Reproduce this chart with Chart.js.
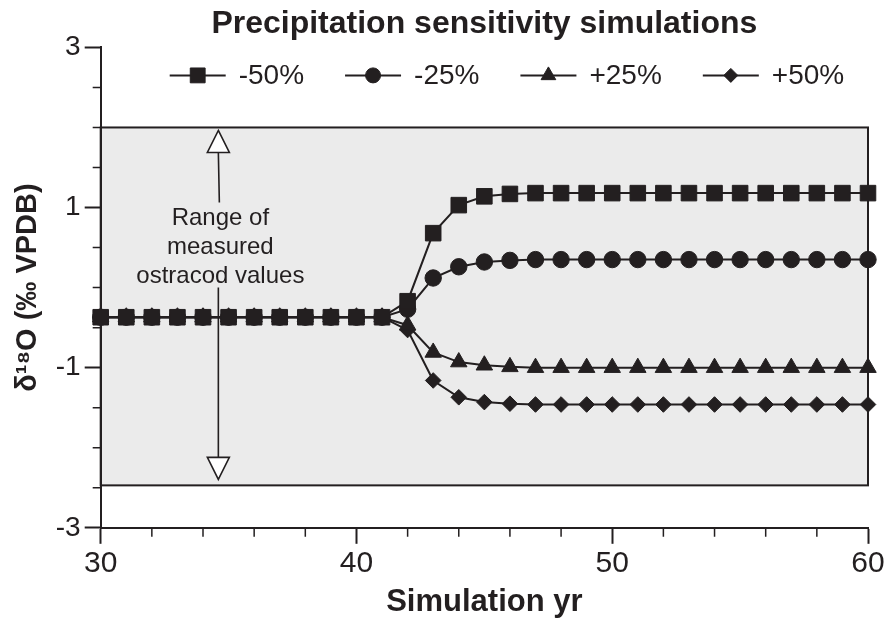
<!DOCTYPE html>
<html>
<head>
<meta charset="utf-8">
<script src="https://cdn.jsdelivr.net/npm/chart.js@4.4.1/dist/chart.umd.min.js"></script>
<style>
  body { margin: 0; background: #fff; }
</style>
</head>
<body>
<canvas id="chart" width="892" height="621"></canvas>
<script>
// simulation years on the x axis
const years = [30, 31, 32, 33, 34, 35, 36, 37, 38, 39, 40, 41, 42, 43, 44, 45,
  46, 47, 48, 49, 50, 51, 52, 53, 54, 55, 56, 57, 58, 59, 60];

// d18O values, one per year
const minus50 = [-0.37, -0.37, -0.37, -0.37, -0.37, -0.37, -0.37, -0.37, -0.37, -0.37, -0.37, -0.37,
  -0.17, 0.68, 1.03, 1.14, 1.17,
  1.18, 1.18, 1.18, 1.18, 1.18, 1.18, 1.18, 1.18, 1.18, 1.18, 1.18, 1.18, 1.18, 1.18];
const minus25 = [-0.37, -0.37, -0.37, -0.37, -0.37, -0.37, -0.37, -0.37, -0.37, -0.37, -0.37, -0.37,
  -0.27, 0.12, 0.26, 0.32, 0.34,
  0.35, 0.35, 0.35, 0.35, 0.35, 0.35, 0.35, 0.35, 0.35, 0.35, 0.35, 0.35, 0.35, 0.35];
const plus25 = [-0.37, -0.37, -0.37, -0.37, -0.37, -0.37, -0.37, -0.37, -0.37, -0.37, -0.37, -0.37,
  -0.47, -0.81, -0.93, -0.97, -0.99,
  -1.0, -1.0, -1.0, -1.0, -1.0, -1.0, -1.0, -1.0, -1.0, -1.0, -1.0, -1.0, -1.0, -1.0];
const plus50 = [-0.37, -0.37, -0.37, -0.37, -0.37, -0.37, -0.37, -0.37, -0.37, -0.37, -0.37, -0.37,
  -0.53, -1.16, -1.37, -1.43, -1.45,
  -1.46, -1.46, -1.46, -1.46, -1.46, -1.46, -1.46, -1.46, -1.46, -1.46, -1.46, -1.46, -1.46, -1.46];

const seriesLabels = ['-50%', '-25%', '+25%', '+50%'];
const seriesStyles = ['rect', 'circle', 'triangle', 'rectRot'];

// shaded band = range of measured ostracod values (d18O)
const measuredRange = [-2.47, 2.0];
const noteLines = ['Range of', 'measured', 'ostracod values'];
const noteYear = 34.6;
const noteValue = 0.5;

const ink = '#231f20';
const sans = "'Liberation Sans', Arial, Helvetica, sans-serif";

const pointSizes = { rect: 11, circle: 8.2, triangle: 9.5, rectRot: 7.8 };
const legendSizes = { rect: 10.5, circle: 7.5, triangle: 8.5, rectRot: 7 };

function drawMarker(ctx, style, x, y, r) {
  ctx.beginPath();
  if (style === 'rect') {
    const s = r * Math.SQRT1_2;
    ctx.rect(x - s, y - s, 2 * s, 2 * s);
  } else if (style === 'circle') {
    ctx.arc(x, y, r, 0, Math.PI * 2);
  } else if (style === 'triangle') {
    let a = 0;
    ctx.moveTo(x + Math.sin(a) * r, y - Math.cos(a) * r);
    a += Math.PI * 2 / 3;
    ctx.lineTo(x + Math.sin(a) * r, y - Math.cos(a) * r);
    a += Math.PI * 2 / 3;
    ctx.lineTo(x + Math.sin(a) * r, y - Math.cos(a) * r);
    ctx.closePath();
  } else {
    ctx.moveTo(x - r, y);
    ctx.lineTo(x, y - r);
    ctx.lineTo(x + r, y);
    ctx.lineTo(x, y + r);
    ctx.closePath();
  }
  ctx.fill();
  ctx.stroke();
}

// gray band, arrows and the note, drawn behind axes and data
const rangeBand = {
  id: 'rangeBand',
  beforeDraw(chart) {
    const { ctx, scales: { x, y } } = chart;
    const left = x.getPixelForValue(years[0]);
    const right = x.getPixelForValue(years[years.length - 1]);
    const top = y.getPixelForValue(measuredRange[1]);
    const bottom = y.getPixelForValue(measuredRange[0]);
    ctx.save();
    ctx.fillStyle = '#ebebeb';
    ctx.fillRect(left, top, right - left, bottom - top);
    ctx.strokeStyle = ink;
    ctx.lineWidth = 2;
    ctx.strokeRect(left, top, right - left, bottom - top);

    // note text
    const ax = x.getPixelForValue(noteYear);
    const cy = y.getPixelForValue(noteValue);
    ctx.fillStyle = ink;
    ctx.font = '24px ' + sans;
    ctx.textAlign = 'center';
    ctx.textBaseline = 'middle';
    noteLines.forEach((t, i) => ctx.fillText(t, ax + 2, cy + (i - 1) * 29));

    // arrow shafts
    const headH = 22, headW = 11;
    const tipTop = top + 3, tipBottom = bottom - 6;
    ctx.lineWidth = 1.6;
    ctx.beginPath();
    ctx.moveTo(ax, tipTop + headH);
    ctx.lineTo(ax + 1, cy - 29 - 16);
    ctx.moveTo(ax, cy + 29 + 11);
    ctx.lineTo(ax, tipBottom - headH);
    ctx.stroke();

    // open arrow heads
    ctx.fillStyle = '#fff';
    ctx.beginPath();
    ctx.moveTo(ax, tipTop);
    ctx.lineTo(ax + headW, tipTop + headH);
    ctx.lineTo(ax - headW, tipTop + headH);
    ctx.closePath();
    ctx.fill();
    ctx.stroke();
    ctx.beginPath();
    ctx.moveTo(ax, tipBottom);
    ctx.lineTo(ax + headW, tipBottom - headH);
    ctx.lineTo(ax - headW, tipBottom - headH);
    ctx.closePath();
    ctx.fill();
    ctx.stroke();
    ctx.restore();
  }
};

// small unlabelled ticks between the labelled ones
const minorTicks = {
  id: 'minorTicks',
  afterDraw(chart) {
    const { ctx, scales: { x, y } } = chart;
    ctx.save();
    ctx.strokeStyle = ink;
    ctx.lineWidth = 1.5;
    ctx.beginPath();
    for (let v = 32; v < 60; v += 2) {
      if (v % 10 === 0) continue;
      const px = x.getPixelForValue(v);
      ctx.moveTo(px, x.top);
      ctx.lineTo(px, x.top + 9);
    }
    for (let v = -2.5; v < 3; v += 0.5) {
      if (Math.abs(v % 2) === 1) continue;
      const py = y.getPixelForValue(v);
      ctx.moveTo(y.right, py);
      ctx.lineTo(y.right - 8, py);
    }
    ctx.stroke();
    ctx.restore();
  }
};

// legend: short line with the series marker, then the label
const lineLegend = {
  id: 'lineLegend',
  afterDatasetsDraw(chart) {
    const { ctx, chartArea } = chart;
    const cy = chartArea.top + 28;
    let lx = chartArea.left + 69;
    ctx.save();
    ctx.font = '28px ' + sans;
    ctx.textBaseline = 'middle';
    ctx.textAlign = 'left';
    seriesLabels.forEach((label, i) => {
      ctx.strokeStyle = ink;
      ctx.fillStyle = ink;
      ctx.lineWidth = 2;
      ctx.beginPath();
      ctx.moveTo(lx, cy);
      ctx.lineTo(lx + 56, cy);
      ctx.stroke();
      ctx.lineWidth = 1;
      drawMarker(ctx, seriesStyles[i], lx + 28, cy, legendSizes[seriesStyles[i]]);
      ctx.fillText(label, lx + 69, cy + 1);
      lx += 69 + ctx.measureText(label).width + 41;
    });
    ctx.restore();
  }
};

const seriesValues = [minus50, minus25, plus25, plus50];

const datasets = seriesValues.map((vals, i) => ({
  label: seriesLabels[i],
  data: years.map((yr, j) => ({ x: yr, y: vals[j] })),
  borderColor: ink,
  backgroundColor: ink,
  borderWidth: 2,
  pointStyle: seriesStyles[i],
  pointRadius: pointSizes[seriesStyles[i]],
  pointBackgroundColor: ink,
  pointBorderColor: ink,
  pointBorderWidth: 1,
  tension: 0,
  clip: false
}));

new Chart(document.getElementById('chart'), {
  type: 'line',
  data: { datasets },
  options: {
    responsive: false,
    animation: false,
    layout: { padding: { left: 4, right: 24, top: 0, bottom: 0 } },
    plugins: {
      legend: { display: false },
      tooltip: { enabled: false },
      title: {
        display: true,
        fullSize: false,
        text: 'Precipitation sensitivity simulations',
        color: ink,
        font: { family: sans, size: 32, weight: 'bold' },
        padding: { top: 5, bottom: 4 }
      }
    },
    scales: {
      x: {
        type: 'linear',
        min: 30,
        max: 60,
        ticks: { stepSize: 10, color: ink, font: { family: sans, size: 30 }, padding: 2 },
        grid: { drawOnChartArea: false, tickLength: 16, tickWidth: 2, tickColor: ink },
        border: { color: ink, width: 2 },
        title: {
          display: true,
          text: 'Simulation yr',
          color: ink,
          font: { family: sans, size: 31, weight: 'bold' },
          padding: { top: 0, bottom: 0 }
        }
      },
      y: {
        min: -3,
        max: 3,
        ticks: { stepSize: 2, color: ink, font: { family: sans, size: 28 }, padding: 4 },
        grid: { drawOnChartArea: false, tickLength: 16, tickWidth: 2, tickColor: ink },
        border: { color: ink, width: 2 },
        title: {
          display: true,
          text: 'δ¹⁸O (‰ VPDB)',
          color: ink,
          font: { family: sans, size: 29, weight: 'bold' },
          padding: { top: 7, bottom: 6 }
        }
      }
    }
  },
  plugins: [rangeBand, minorTicks, lineLegend]
});
</script>
</body>
</html>
